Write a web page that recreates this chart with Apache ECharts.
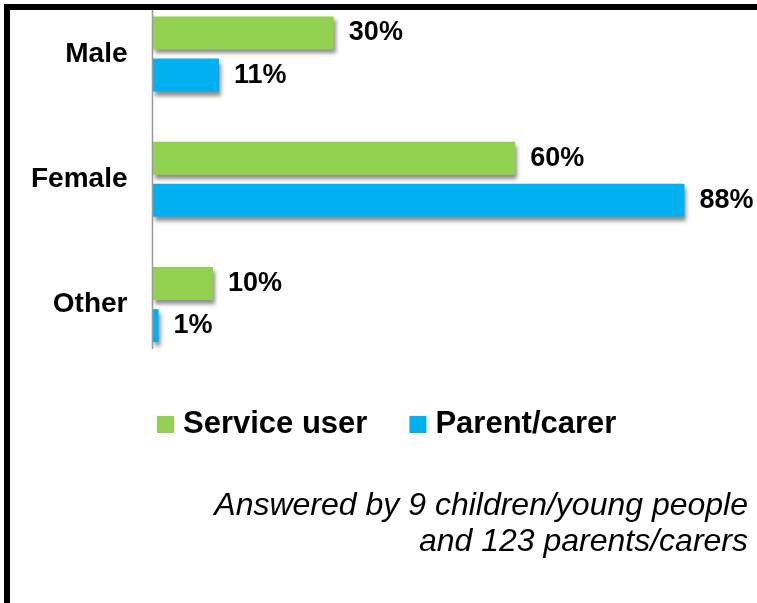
<!DOCTYPE html>
<html>
<head>
<meta charset="utf-8">
<script src="https://cdn.jsdelivr.net/npm/echarts@6/dist/echarts.min.js"></script>
<style>
  html, body { margin: 0; padding: 0; background: #ffffff; }
  #chart { width: 757px; height: 603px; }
</style>
</head>
<body>
<div id="chart"></div>
<script>
// Respondent gender breakdown, percentages per group
const categories = ['Male', 'Female', 'Other'];
const serviceUser = [30, 60, 10];
const parentCarer = [11, 88, 1];
const seriesNames = ['Service user', 'Parent/carer'];
const footnoteLines = ['Answered by 9 children/young people', 'and 123 parents/carers'];

const GREEN = '#92D050';
const BLUE = '#00B0F0';
const FONT = '"Liberation Sans", Arial, sans-serif';

const chart = echarts.init(document.getElementById('chart'), null, { renderer: 'canvas' });

const barShadow = {
  shadowBlur: 4,
  shadowColor: 'rgba(0,0,0,0.45)',
  shadowOffsetX: 2,
  shadowOffsetY: 4
};

const valueLabel = {
  show: true,
  position: 'right',
  distance: 15,
  formatter: '{c}%',
  color: '#000',
  fontFamily: FONT,
  fontWeight: 'bold',
  fontSize: 27
};

chart.setOption({
  animation: false,
  backgroundColor: '#ffffff',
  // category ticks sit on the grid edges, so the groups are centred on them
  grid: { left: 152.5, top: 54, width: 605, height: 250.5, containLabel: false },
  xAxis: {
    type: 'value',
    min: 0,
    max: 100,
    show: false
  },
  yAxis: {
    type: 'category',
    data: categories,
    inverse: true,
    boundaryGap: false,
    axisLine: { show: false },
    axisTick: { show: false },
    splitLine: { show: false },
    axisLabel: {
      margin: 25,
      color: '#000',
      fontFamily: FONT,
      fontWeight: 'bold',
      fontSize: 28
    }
  },
  legend: {
    data: seriesNames,
    left: 157,
    top: 409,
    padding: 0,
    icon: 'rect',
    itemWidth: 17,
    itemHeight: 17,
    itemGap: 42,
    textStyle: {
      color: '#000',
      fontFamily: FONT,
      fontWeight: 'bold',
      fontSize: 31,
      padding: [0, 0, 0, 4]
    }
  },
  series: [
    {
      name: seriesNames[0],
      type: 'bar',
      data: serviceUser,
      barWidth: 33,
      barGap: '28%',
      itemStyle: Object.assign({ color: GREEN }, barShadow),
      label: valueLabel
    },
    {
      name: seriesNames[1],
      type: 'bar',
      data: parentCarer,
      barWidth: 33,
      barGap: '28%',
      itemStyle: Object.assign({ color: BLUE }, barShadow),
      label: valueLabel
    }
  ]
});

// Vertical baseline at zero and the frame edges
const zeroX = chart.convertToPixel({ gridIndex: 0 }, [0, 0])[0];
chart.setOption({
  graphic: [
    {
      type: 'line',
      shape: { x1: zeroX, y1: 10, x2: zeroX, y2: 349 },
      style: { stroke: '#9a9a9a', lineWidth: 1.5 },
      z: 50
    },
    {
      type: 'rect',
      shape: { x: 4, y: 4, width: 753, height: 6 },
      style: { fill: '#000' },
      z: 100
    },
    {
      type: 'rect',
      shape: { x: 4, y: 4, width: 6, height: 599 },
      style: { fill: '#000' },
      z: 100
    },
    {
      type: 'text',
      right: 9,
      top: 488,
      style: {
        text: footnoteLines.join('\n'),
        fill: '#000',
        font: 'italic 32px ' + FONT,
        textAlign: 'right',
        lineHeight: 36
      },
      z: 100
    }
  ]
});
</script>
</body>
</html>
